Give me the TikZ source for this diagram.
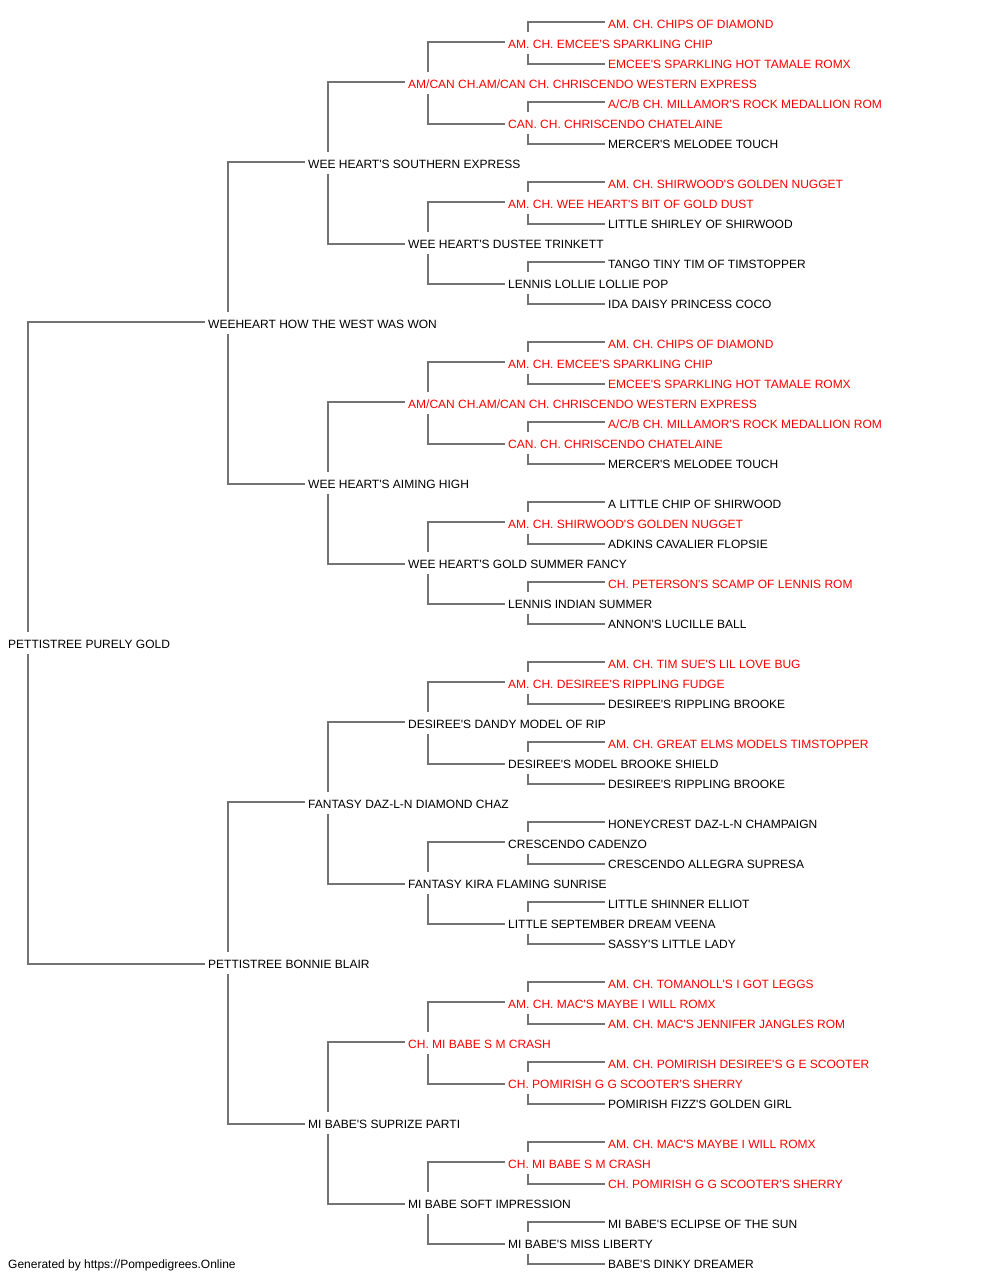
\documentclass[tikz,border=0pt]{standalone}
\usepackage{fontspec}
\setmainfont{Liberation Sans}
\definecolor{lncol}{RGB}{115,115,115}
\definecolor{redtxt}{RGB}{255,0,0}
\newcommand{\apo}{\textquotesingle}
\begin{document}
\begin{tikzpicture}[x=1pt,y=-1pt,
  pn/.style={anchor=west,inner xsep=3pt,inner ysep=0pt,minimum height=20pt,text height=10pt,text depth=0pt,font=\fontsize{12}{14}\selectfont},
  rd/.style={pn,text=redtxt},
  bk/.style={pn,text=black},
  ln/.style={draw=lncol,line width=1.8pt}]
\useasboundingbox[fill=white] (0,0) rectangle (1000,1280);
\node[rd] (n0) at (605,23) {AM. CH. CHIPS OF DIAMOND};
\node[rd] (n1) at (505,43) {AM. CH. EMCEE\apo S SPARKLING CHIP};
\node[rd] (n2) at (605,63) {EMCEE\apo S SPARKLING HOT TAMALE ROMX};
\node[rd] (n3) at (405,83) {AM/CAN CH.AM/CAN CH. CHRISCENDO WESTERN EXPRESS};
\node[rd] (n4) at (605,103) {A/C/B CH. MILLAMOR\apo S ROCK MEDALLION ROM};
\node[rd] (n5) at (505,123) {CAN. CH. CHRISCENDO CHATELAINE};
\node[bk] (n6) at (605,143) {MERCER\apo S MELODEE TOUCH};
\node[bk] (n7) at (305,163) {WEE HEART\apo S SOUTHERN EXPRESS};
\node[rd] (n8) at (605,183) {AM. CH. SHIRWOOD\apo S GOLDEN NUGGET};
\node[rd] (n9) at (505,203) {AM. CH. WEE HEART\apo S BIT OF GOLD DUST};
\node[bk] (n10) at (605,223) {LITTLE SHIRLEY OF SHIRWOOD};
\node[bk] (n11) at (405,243) {WEE HEART\apo S DUSTEE TRINKETT};
\node[bk] (n12) at (605,263) {TANGO TINY TIM OF TIMSTOPPER};
\node[bk] (n13) at (505,283) {LENNIS LOLLIE LOLLIE POP};
\node[bk] (n14) at (605,303) {IDA DAISY PRINCESS COCO};
\node[bk] (n15) at (205,323) {WEEHEART HOW THE WEST WAS WON};
\node[rd] (n16) at (605,343) {AM. CH. CHIPS OF DIAMOND};
\node[rd] (n17) at (505,363) {AM. CH. EMCEE\apo S SPARKLING CHIP};
\node[rd] (n18) at (605,383) {EMCEE\apo S SPARKLING HOT TAMALE ROMX};
\node[rd] (n19) at (405,403) {AM/CAN CH.AM/CAN CH. CHRISCENDO WESTERN EXPRESS};
\node[rd] (n20) at (605,423) {A/C/B CH. MILLAMOR\apo S ROCK MEDALLION ROM};
\node[rd] (n21) at (505,443) {CAN. CH. CHRISCENDO CHATELAINE};
\node[bk] (n22) at (605,463) {MERCER\apo S MELODEE TOUCH};
\node[bk] (n23) at (305,483) {WEE HEART\apo S AIMING HIGH};
\node[bk] (n24) at (605,503) {A LITTLE CHIP OF SHIRWOOD};
\node[rd] (n25) at (505,523) {AM. CH. SHIRWOOD\apo S GOLDEN NUGGET};
\node[bk] (n26) at (605,543) {ADKINS CAVALIER FLOPSIE};
\node[bk] (n27) at (405,563) {WEE HEART\apo S GOLD SUMMER FANCY};
\node[rd] (n28) at (605,583) {CH. PETERSON\apo S SCAMP OF LENNIS ROM};
\node[bk] (n29) at (505,603) {LENNIS INDIAN SUMMER};
\node[bk] (n30) at (605,623) {ANNON\apo S LUCILLE BALL};
\node[bk] (n31) at (5,643) {PETTISTREE PURELY GOLD};
\node[rd] (n32) at (605,663) {AM. CH. TIM SUE\apo S LIL LOVE BUG};
\node[rd] (n33) at (505,683) {AM. CH. DESIREE\apo S RIPPLING FUDGE};
\node[bk] (n34) at (605,703) {DESIREE\apo S RIPPLING BROOKE};
\node[bk] (n35) at (405,723) {DESIREE\apo S DANDY MODEL OF RIP};
\node[rd] (n36) at (605,743) {AM. CH. GREAT ELMS MODELS TIMSTOPPER};
\node[bk] (n37) at (505,763) {DESIREE\apo S MODEL BROOKE SHIELD};
\node[bk] (n38) at (605,783) {DESIREE\apo S RIPPLING BROOKE};
\node[bk] (n39) at (305,803) {FANTASY DAZ-L-N DIAMOND CHAZ};
\node[bk] (n40) at (605,823) {HONEYCREST DAZ-L-N CHAMPAIGN};
\node[bk] (n41) at (505,843) {CRESCENDO CADENZO};
\node[bk] (n42) at (605,863) {CRESCENDO ALLEGRA SUPRESA};
\node[bk] (n43) at (405,883) {FANTASY KIRA FLAMING SUNRISE};
\node[bk] (n44) at (605,903) {LITTLE SHINNER ELLIOT};
\node[bk] (n45) at (505,923) {LITTLE SEPTEMBER DREAM VEENA};
\node[bk] (n46) at (605,943) {SASSY\apo S LITTLE LADY};
\node[bk] (n47) at (205,963) {PETTISTREE BONNIE BLAIR};
\node[rd] (n48) at (605,983) {AM. CH. TOMANOLL\apo S I GOT LEGGS};
\node[rd] (n49) at (505,1003) {AM. CH. MAC\apo S MAYBE I WILL ROMX};
\node[rd] (n50) at (605,1023) {AM. CH. MAC\apo S JENNIFER JANGLES ROM};
\node[rd] (n51) at (405,1043) {CH. MI BABE S M CRASH};
\node[rd] (n52) at (605,1063) {AM. CH. POMIRISH DESIREE\apo S G E SCOOTER};
\node[rd] (n53) at (505,1083) {CH. POMIRISH G G SCOOTER\apo S SHERRY};
\node[bk] (n54) at (605,1103) {POMIRISH FIZZ\apo S GOLDEN GIRL};
\node[bk] (n55) at (305,1123) {MI BABE\apo S SUPRIZE PARTI};
\node[rd] (n56) at (605,1143) {AM. CH. MAC\apo S MAYBE I WILL ROMX};
\node[rd] (n57) at (505,1163) {CH. MI BABE S M CRASH};
\node[rd] (n58) at (605,1183) {CH. POMIRISH G G SCOOTER\apo S SHERRY};
\node[bk] (n59) at (405,1203) {MI BABE SOFT IMPRESSION};
\node[bk] (n60) at (605,1223) {MI BABE\apo S ECLIPSE OF THE SUN};
\node[bk] (n61) at (505,1243) {MI BABE\apo S MISS LIBERTY};
\node[bk] (n62) at (605,1263) {BABE\apo S DINKY DREAMER};
\node[bk] (footer) at (5,1263) {Generated by https://Pompedigrees.Online};
\foreach \p/\d in {31/16, 15/8, 47/8, 7/4, 23/4, 39/4, 55/4,
  3/2, 11/2, 19/2, 27/2, 35/2, 43/2, 51/2, 59/2,
  1/1, 5/1, 9/1, 13/1, 17/1, 21/1, 25/1, 29/1, 33/1, 37/1, 41/1, 45/1, 49/1, 53/1, 57/1, 61/1} {
  \pgfmathtruncatemacro{\ca}{\p-\d}
  \pgfmathtruncatemacro{\cb}{\p+\d}
  \draw[ln] ([xshift=23pt,yshift=1pt]n\p.north west) |- ([yshift=1pt]n\ca.west);
  \draw[ln] ([xshift=23pt,yshift=-1pt]n\p.south west) |- ([yshift=-1pt]n\cb.west);
}
\end{tikzpicture}
\end{document}
